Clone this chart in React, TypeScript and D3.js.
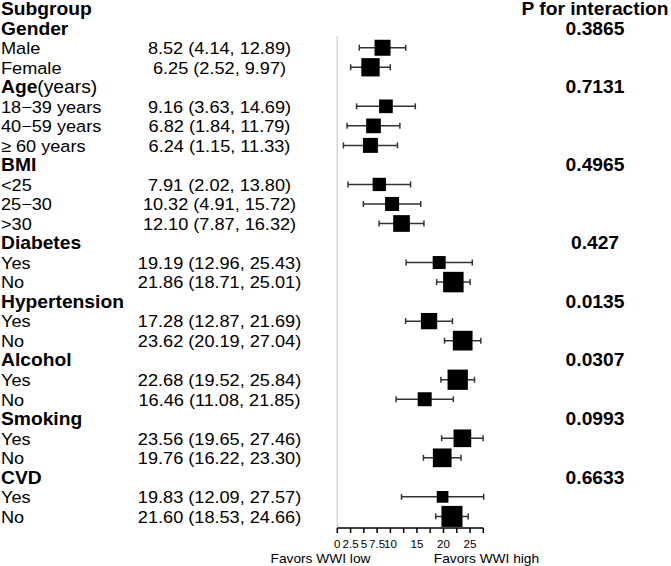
import React from "react";
import * as d3 from "d3";

const groupNames = ["Gender", "Age", "BMI", "Diabetes", "Hypertension", "Alcohol", "Smoking", "CVD"];
const groupSuffix = ["", "(years)", "", "", "", "", "", ""];
const pValues = ["0.3865", "0.7131", "0.4965", "0.427", "0.0135", "0.0307", "0.0993", "0.6633"];
const subLabels = [
  ["Male", "Female"],
  ["18\u221239 years", "40\u221259 years", "\u2265 60 years"],
  ["<25", "25\u221230", ">30"],
  ["Yes", "No"],
  ["Yes", "No"],
  ["Yes", "No"],
  ["Yes", "No"],
  ["Yes", "No"],
];
const estimates = [8.52, 6.25, 9.16, 6.82, 6.24, 7.91, 10.32, 12.1, 19.19, 21.86, 17.28, 23.62, 22.68, 16.46, 23.56, 19.76, 19.83, 21.6];
const lowers = [4.14, 2.52, 3.63, 1.84, 1.15, 2.02, 4.91, 7.87, 12.96, 18.71, 12.87, 20.19, 19.52, 11.08, 19.65, 16.22, 12.09, 18.53];
const uppers = [12.89, 9.97, 14.69, 11.79, 11.33, 13.8, 15.72, 16.32, 25.43, 25.01, 21.69, 27.04, 25.84, 21.85, 27.46, 23.3, 27.57, 24.66];
const weights = [16, 18.3, 13.7, 14.7, 15, 13.3, 14, 16.7, 13, 20.5, 16.3, 19.7, 20.3, 14, 17.7, 18.7, 11.7, 21];
const tickValues = d3.range(0, 27.5001, 2.5);
const tickLabels = [0, 2.5, 5, 7.5, 10, 15, 20, 25];

const FONT = "'Liberation Sans', Arial, Helvetica, sans-serif";
const SX = 1.1;

type TP = { x: number; y: number; size: number; bold?: boolean; anchor?: string; children: React.ReactNode };
const T = ({ x, y, size, bold, anchor = "start", children }: TP) => (
  <text
    transform={`translate(${x},${y}) scale(${SX},1)`}
    fontSize={size}
    fontWeight={bold ? "bold" : "normal"}
    textAnchor={anchor}
    fontFamily={FONT}
    fill="#000"
  >
    {children}
  </text>
);

export default function App() {
  const W = 671, H = 566;
  const x = d3.scaleLinear().domain([0, 27.5]).range([337.3, 483.3]);
  const totalRows = 1 + groupNames.length + estimates.length;
  const yBase = d3.scaleLinear().domain([0, totalRows - 1]).range([15, 522.7]);
  const boxScale = d3.scaleLinear().domain([0, 21]).range([0, 21]);

  type Row = { kind: "header" | "group" | "sub"; label: string; suffix?: string; p?: string; idx?: number };
  const rows: Row[] = [{ kind: "header", label: "Subgroup" }];
  let k = 0;
  groupNames.forEach((g, gi) => {
    rows.push({ kind: "group", label: g, suffix: groupSuffix[gi], p: pValues[gi] });
    subLabels[gi].forEach((s) => {
      rows.push({ kind: "sub", label: s, idx: k });
      k++;
    });
  });

  const axisY = 528;
  const fmt = (v: number) => v.toFixed(2);

  return (
    <svg width={W} height={H} style={{ position: "absolute", left: 0, top: 0, background: "#fff" }}>
      <rect width={W} height={H} fill="#fff" />
      {/* reference line */}
      <line x1={x(0)} x2={x(0)} y1={36} y2={axisY} stroke="#d4d4d4" strokeWidth={1.5} />
      <T x={595} y={yBase(0)} size={17.5} bold anchor="middle">P for interaction</T>
      {rows.map((r, i) => {
        const by = yBase(i);
        if (r.kind === "header") {
          return <T key={i} x={1} y={by} size={17.5} bold>{r.label}</T>;
        }
        if (r.kind === "group") {
          return (
            <g key={i}>
              <T x={1} y={by} size={17.5} bold>
                {r.label}
                {r.suffix ? <tspan fontWeight="normal">{r.suffix}</tspan> : null}
              </T>
              <T x={595} y={by} size={17.5} bold anchor="middle">{r.p}</T>
            </g>
          );
        }
        const j = r.idx as number;
        const cy = by - 6.3;
        const s = boxScale(weights[j]);
        return (
          <g key={i}>
            <T x={1} y={by} size={16.5}>{r.label}</T>
            <T x={219.5} y={by} size={16.5} anchor="middle">
              {`${fmt(estimates[j])} (${fmt(lowers[j])}, ${fmt(uppers[j])})`}
            </T>
            <line x1={x(lowers[j])} x2={x(uppers[j])} y1={cy} y2={cy} stroke="#333" strokeWidth={1.5} />
            <line x1={x(lowers[j])} x2={x(lowers[j])} y1={cy - 3} y2={cy + 3} stroke="#333" strokeWidth={1.5} />
            <line x1={x(uppers[j])} x2={x(uppers[j])} y1={cy - 3} y2={cy + 3} stroke="#333" strokeWidth={1.5} />
            <rect x={x(estimates[j]) - s / 2} y={cy - s / 2} width={s} height={s} fill="#000" />
          </g>
        );
      })}
      {/* axis */}
      <line x1={x(0)} x2={x(27.5)} y1={axisY} y2={axisY} stroke="#000" strokeWidth={1.5} />
      {tickValues.map((t) => (
        <line key={t} x1={x(t)} x2={x(t)} y1={axisY} y2={axisY + 5} stroke="#000" strokeWidth={1.5} />
      ))}
      {tickLabels.map((t) => (
        <T key={"l" + t} x={x(t)} y={axisY + 20} size={10.5} anchor="middle">{String(t)}</T>
      ))}
      <T x={320.5} y={axisY + 35} size={12.5} anchor="middle">Favors WWI low</T>
      <T x={486.5} y={axisY + 35} size={12.5} anchor="middle">Favors WWI high</T>
    </svg>
  );
}
